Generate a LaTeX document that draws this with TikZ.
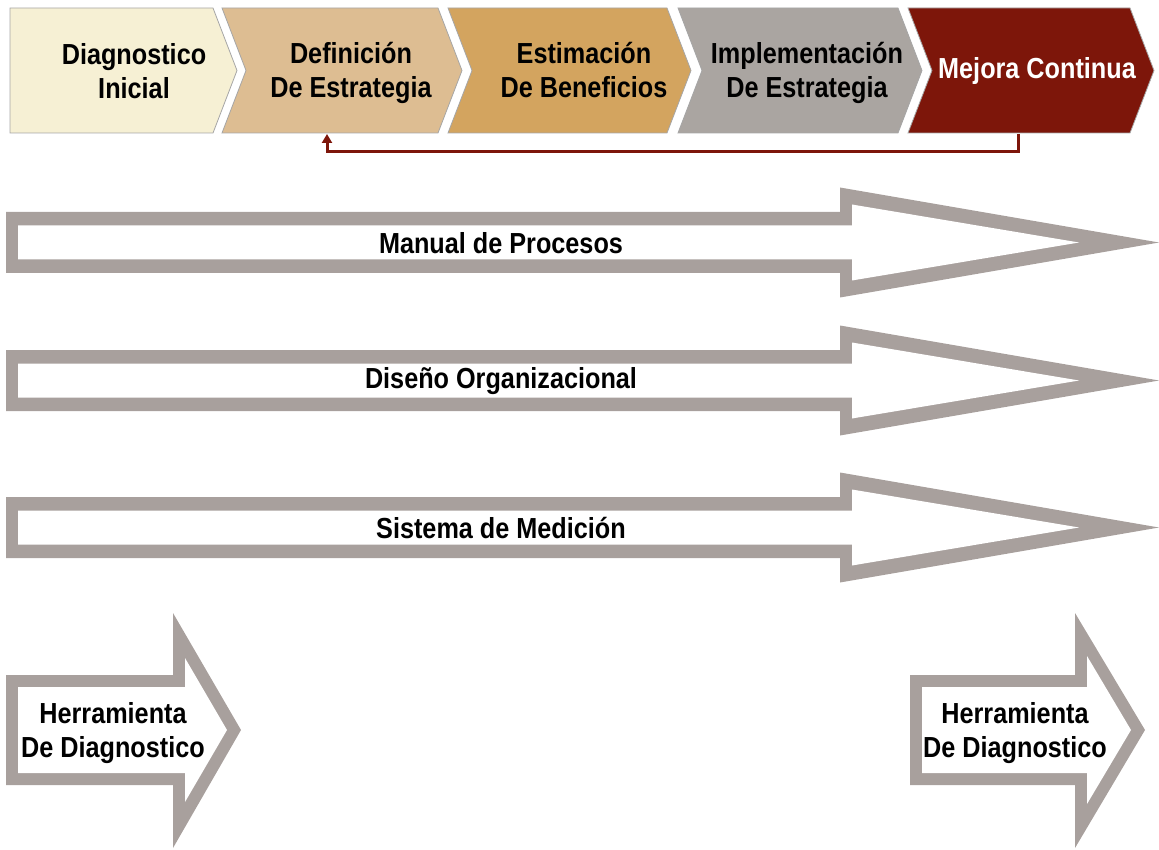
\documentclass[tikz,border=0pt]{standalone}
\usepackage{fontspec}
\newfontfamily\labfont[FakeStretch=0.87]{Liberation Sans}
\usetikzlibrary{arrows.meta}
\definecolor{cA}{HTML}{F6F0D4}
\definecolor{cB}{HTML}{DDBD92}
\definecolor{cC}{HTML}{D3A45F}
\definecolor{cD}{HTML}{AAA5A1}
\definecolor{cE}{HTML}{7D160A}
\definecolor{outl}{HTML}{A8A09D}
\tikzset{
  chev/.style={draw=black!35, line width=0.8pt},
  lab/.style={font=\labfont\bfseries\fontsize{29}{34}\selectfont, align=center, text=black, inner sep=0pt},
  twoline/.style={text height=21pt, text depth=0pt},
  fb/.style={draw=cE, line width=3pt, -{Triangle[length=9pt,width=10pt]}},
}
\begin{document}
\begin{tikzpicture}[x=1pt,y=-1pt]
\useasboundingbox (0,0) rectangle (1159,850);
% top chevrons
\path[chev, fill=cA] (10,8) -- (213,8) -- (237,70.5) -- (213,133) -- (10,133) -- cycle;
\path[chev, fill=cB] (222,8) -- (438,8) -- (462,70.5) -- (438,133) -- (222,133) -- (246,70.5) -- cycle;
\path[chev, fill=cC] (448,8) -- (667,8) -- (691,70.5) -- (667,133) -- (448,133) -- (472,70.5) -- cycle;
\path[chev, fill=cD] (678,8) -- (898,8) -- (922,70.5) -- (898,133) -- (678,133) -- (702,70.5) -- cycle;
\path[chev, fill=cE] (908,8) -- (1130,8) -- (1154,70.5) -- (1130,133) -- (908,133) -- (932,70.5) -- cycle;
\node[lab, twoline] (di) at (134,88) {Diagnostico\\Inicial};
\node[lab, twoline] (de) at (351,87) {Definición\\De Estrategia};
\node[lab, twoline] (eb) at (584,87) {Estimación\\De Beneficios};
\node[lab, twoline] (ie) at (807,87) {Implementación\\De Estrategia};
\node[lab, text=white] (mc) at (1037,71) {Mejora Continua};
% feedback arrow
\coordinate (b5bot) at (1018,134);
\coordinate (b2bot) at (327,134);
\coordinate (fbr) at (1018,152);
\draw[fb] (b5bot) -- (fbr) -| (b2bot);
% long arrows
\foreach \c/\nm/\t in {242.5/mp/Manual de Procesos, 380.5/dorg/Diseño Organizacional, 527.5/sm/Sistema de Medición}{
  \fill[outl] (6,\c-30.5) -- (840,\c-30.5) -- (840,\c-55) -- (1159,\c) -- (840,\c+55) -- (840,\c+30.5) -- (6,\c+30.5) -- cycle;
  \fill[white] (18,\c-17) -- (852,\c-17) -- (852,\c-38) -- (1079,\c) -- (852,\c+38) -- (852,\c+17) -- (18,\c+17) -- cycle;
  \node[lab] (\nm) at (501,\c+1) {\t};
}
% small arrows
\fill[outl] (6,675) -- (173,675) -- (173,613) -- (241,730) -- (173,848) -- (173,785) -- (6,785) -- cycle;
\fill[white] (18,687) -- (185,687) -- (185,658) -- (227,730) -- (185,802) -- (185,773) -- (18,773) -- cycle;
\node[lab] (hl) at (113,733) {Herramienta\\De Diagnostico};
\fill[outl] (910,675) -- (1075,675) -- (1075,613) -- (1145,730) -- (1075,848) -- (1075,785) -- (910,785) -- cycle;
\fill[white] (922,687) -- (1087,687) -- (1087,656) -- (1131,730) -- (1087,804) -- (1087,773) -- (922,773) -- cycle;
\node[lab] (hr) at (1015,733) {Herramienta\\De Diagnostico};
\end{tikzpicture}
\end{document}
